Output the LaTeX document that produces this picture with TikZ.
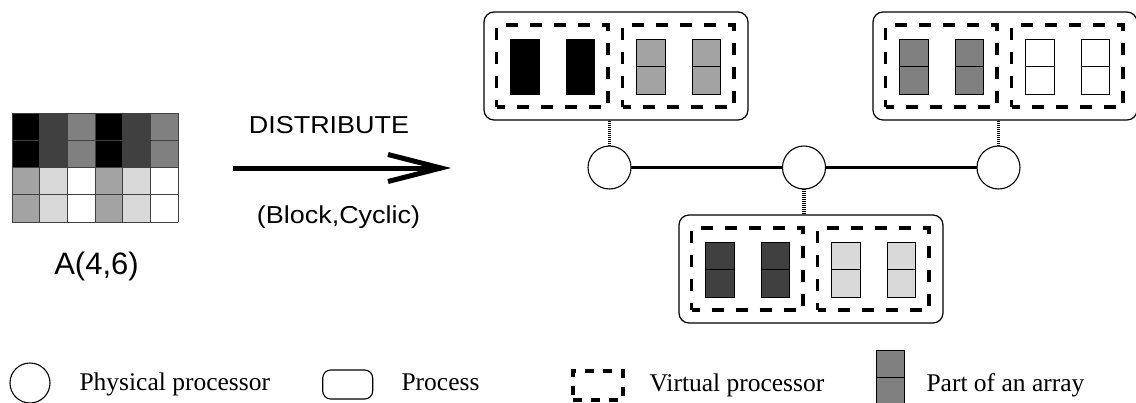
\documentclass[tikz,border=0pt]{standalone}
\usepackage{fontspec}
\setmainfont{Liberation Serif}
\newfontfamily\arialfont{Liberation Sans}
\definecolor{gA}{HTML}{404040}
\definecolor{gB}{HTML}{808080}
\definecolor{gC}{HTML}{A3A3A3}
\definecolor{gD}{HTML}{D9D9D9}
\tikzset{
  proc/.style={draw, rounded corners=10pt, line width=1.2pt, minimum width=264pt, minimum height=108pt, inner sep=0pt, outer sep=0pt, anchor=north west},
  vpbox/.style={draw, dash pattern=on 12pt off 12pt, dash phase=4pt, line width=3.2pt, minimum width=111.5pt, minimum height=82pt, inner sep=0pt, outer sep=0pt, anchor=north west},
  partbox/.style={draw, line width=0.9pt, minimum width=28.5pt, minimum height=55pt, inner sep=0pt, outer sep=0pt, anchor=north west},
  pp/.style={circle, draw, line width=1.1pt, minimum size=43pt, inner sep=0pt, outer sep=0pt, fill=white},
  link/.style={line width=3.5pt, dash pattern=on 1pt off 1pt},
  bus/.style={line width=2.4pt},
  sans/.style={font=\arialfont\fontsize{24.5}{28}\selectfont},
  legtext/.style={font=\fontsize{25.5}{30}\selectfont, anchor=base west},
}
\newcommand\partrect[4]{%
  \node[partbox, fill=#4] (#1) at (#2,#3) {};
  \draw[line width=0.9pt] (#1.west) -- (#1.east);}
\newcommand\procunit[5]{%
  \begin{scope}[shift={(#2,#3)}]
    \node[proc] (#1) at (0,0) {};
    \node[vpbox] (#1a) at (12.5,13) {};
    \node[vpbox] (#1b) at (138.5,13) {};
    \partrect{#1p1}{26.7}{27}{#4}
    \partrect{#1p2}{82}{27}{#4}
    \partrect{#1p3}{152.7}{27}{#5}
    \partrect{#1p4}{208}{27}{#5}
  \end{scope}}
\begin{document}
\begin{tikzpicture}[x=1pt,y=-1pt]
\useasboundingbox (0,0) rectangle (1136,402);
% matrix A(4,6)
\foreach \c/\ca [count=\i from 0] in {black/gC, gA/gD, gB/white, black/gC, gA/gD, gB/white}{
  \pgfmathsetmacro\xa{12+27.67*\i}
  \fill[\c] (\xa,113) rectangle ++(27.67,54.5);
  \fill[\ca] (\xa,167.5) rectangle ++(27.67,54.5);
}
\foreach \i in {0,...,6}{\draw[line width=0.9pt, gA] (12+27.67*\i,113) -- (12+27.67*\i,222);}
\foreach \j in {0,...,4}{\draw[line width=0.9pt, gA] (12,113+27.25*\j) -- (178,113+27.25*\j);}
\node[font=\arialfont\fontsize{31}{36}\selectfont, anchor=base] (alabel) at (96.5,274) {A(4,6)};
% arrow
\node[sans, anchor=base] (dist) at (329,133.3) {\scalebox{1.1}[1]{DISTRIBUTE}};
\node[sans, anchor=base] (bc) at (338.5,223) {\scalebox{1.1}[1]{(Block,Cyclic)}};
\coordinate (as) at (233,168);
\coordinate (tip) at (441,168);
\coordinate (b1) at (388,154.5);
\coordinate (b2) at (388,181.5);
\draw[line width=5pt] (as) -- (tip);
\draw[line width=5pt, line join=miter, miter limit=20] (b1) -- (tip) -- (b2);
% processes
\procunit{tl}{484}{12}{black}{gC}
\procunit{tr}{873}{12}{gB}{white}
\procunit{bt}{679}{215}{gA}{gD}
% processors
\node[pp] (c1) at (609.5,167.5) {};
\node[pp] (c2) at (804,167.5) {};
\node[pp] (c3) at (998.5,167.5) {};
\draw[bus] (c1) -- (c2);
\draw[bus] (c2) -- (c3);
\draw[link] (c1.north) -- (c1.north |- tl.south);
\draw[link] (c3.north) -- (c3.north |- tr.south);
\draw[link] (c2.south) -- (c2.south |- bt.north);
% legend
\node[circle, draw, line width=1.1pt, minimum size=40pt, inner sep=0pt] (lgpp) at (30,383) {};
\node[legtext] (lgpptext) at (76,390) {Physical processor};
\node[draw, rounded corners=8pt, line width=1.1pt, minimum width=50pt, minimum height=29pt, inner sep=0pt] (lgproc) at (347.7,384.5) {};
\node[legtext] (lgproctext) at (398,390) {Process};
\node[draw, dash pattern=on 9pt off 9pt, line width=3.2pt, minimum width=50pt, minimum height=29pt, inner sep=0pt] (lgvp) at (598,385.5) {};
\node[legtext] (lgvptext) at (646,391) {Virtual processor};
\partrect{lgpart}{876}{350}{gB}
\node[legtext] (lgparttext) at (923,391) {Part of an array};
\end{tikzpicture}
\end{document}
